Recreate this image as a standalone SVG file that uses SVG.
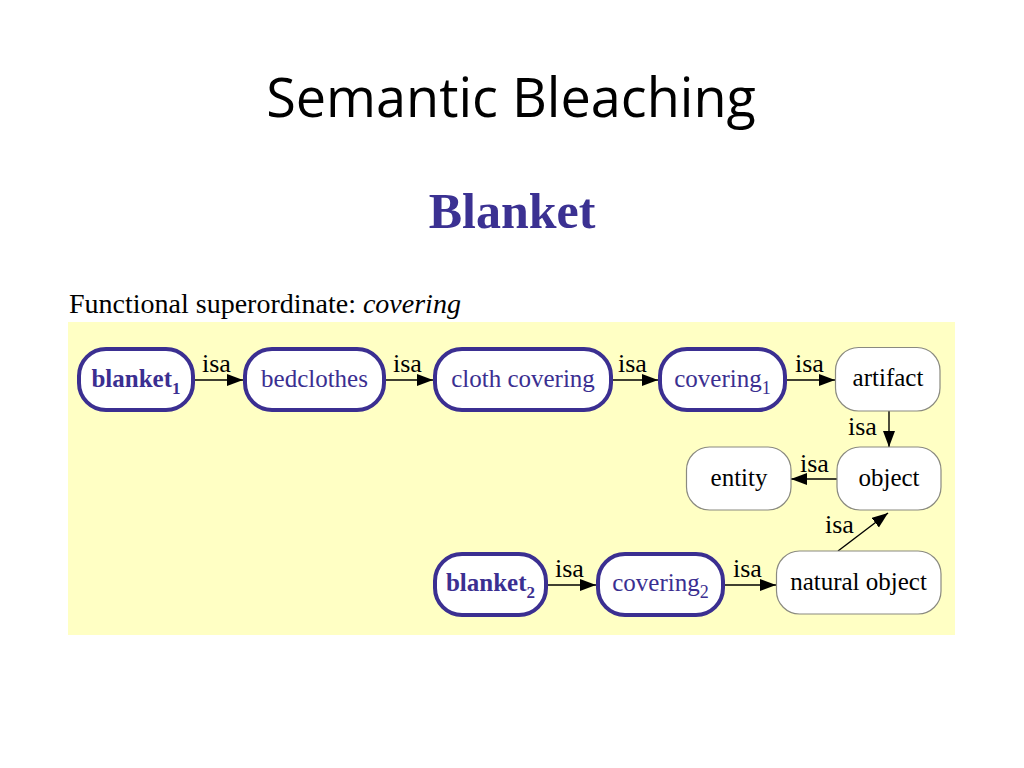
<svg xmlns="http://www.w3.org/2000/svg" width="1024" height="768" viewBox="0 0 1024 768">
<style>
.title{font-family:"Open Sans","Liberation Sans",sans-serif;font-size:54px;fill:#000}
.head{font-family:"Liberation Serif",serif;font-weight:bold;font-size:50px;fill:#3b3192}
.sub{font-family:"Liberation Serif",serif;font-size:28px;fill:#000}
.bn rect{fill:#fff;stroke:#3b2f91;stroke-width:4}
.gn rect{fill:#fff;stroke:#8a8a80;stroke-width:1.2}
.bn text{font-family:"Liberation Serif",serif;font-size:25px;fill:#3b2f91;text-anchor:middle}
.gn text{font-family:"Liberation Serif",serif;font-size:25px;fill:#000;text-anchor:middle}
.bold{font-weight:bold}
.lbl{font-family:"Liberation Serif",serif;font-size:26px;fill:#000}
.edge{stroke:#000;stroke-width:1.4;fill:none;marker-end:url(#ah)}
</style>
<defs>
<marker id="ah" markerUnits="userSpaceOnUse" markerWidth="17" markerHeight="13" refX="16" refY="6" orient="auto">
<path d="M0,0 L16,6 L0,12 z" fill="#000"/>
</marker>
</defs>
<rect width="1024" height="768" fill="#fff"/>
<text class="title" x="511" y="117" text-anchor="middle">Semantic Bleaching</text>
<text class="head" x="512" y="228" text-anchor="middle">Blanket</text>
<text class="sub" x="69" y="313">Functional superordinate: <tspan font-style="italic">covering</tspan></text>
<rect x="68" y="322" width="887" height="313" fill="#ffffc4"/>

<g id="connectors">
<line class="edge" x1="195" y1="380" x2="243" y2="380"/>
<text class="lbl" x="202" y="372">isa</text>
<line class="edge" x1="386" y1="380" x2="433" y2="380"/>
<text class="lbl" x="393" y="372">isa</text>
<line class="edge" x1="613" y1="380" x2="658" y2="380"/>
<text class="lbl" x="618" y="372">isa</text>
<line class="edge" x1="787" y1="380" x2="835" y2="380"/>
<text class="lbl" x="795" y="372">isa</text>
<line class="edge" x1="889" y1="411" x2="889" y2="447"/>
<text class="lbl" x="848" y="435">isa</text>
<line class="edge" x1="837" y1="479" x2="791" y2="479"/>
<text class="lbl" x="800" y="472">isa</text>
<line class="edge" x1="838" y1="551" x2="888" y2="513"/>
<text class="lbl" x="825" y="533">isa</text>
<line class="edge" x1="548" y1="585" x2="596" y2="585"/>
<text class="lbl" x="555" y="577">isa</text>
<line class="edge" x1="725" y1="585" x2="776" y2="585"/>
<text class="lbl" x="733" y="577">isa</text>
</g>

<g id="blanket1" class="bn">
<rect x="79" y="349" width="114" height="61" rx="27"/>
<text class="bold" x="136" y="387" font-size="24">blanket<tspan font-size="17" dy="7">1</tspan></text>
</g>
<g id="bedclothes" class="bn">
<rect x="245" y="349" width="139" height="61" rx="27"/>
<text x="314.5" y="387">bedclothes</text>
</g>
<g id="cloth-covering" class="bn">
<rect x="435" y="349" width="176" height="61" rx="27"/>
<text x="523" y="387">cloth covering</text>
</g>
<g id="covering1" class="bn">
<rect x="660" y="349" width="125" height="61" rx="27"/>
<text x="722.5" y="387">covering<tspan font-size="18" dy="7">1</tspan></text>
</g>
<g id="artifact" class="gn">
<rect x="835.5" y="347.5" width="104.5" height="63.5" rx="23"/>
<text x="888" y="386">artifact</text>
</g>
<g id="entity" class="gn">
<rect x="686.5" y="447" width="104.5" height="63" rx="23"/>
<text x="739" y="486">entity</text>
</g>
<g id="object" class="gn">
<rect x="837" y="447" width="104" height="63" rx="23"/>
<text x="889" y="486">object</text>
</g>
<g id="blanket2" class="bn">
<rect x="435" y="554" width="111" height="61" rx="27"/>
<text class="bold" x="490.5" y="591" font-size="24">blanket<tspan font-size="17" dy="7">2</tspan></text>
</g>
<g id="covering2" class="bn">
<rect x="598" y="554" width="125" height="61" rx="27"/>
<text x="660.5" y="591">covering<tspan font-size="18" dy="7">2</tspan></text>
</g>
<g id="natural-object" class="gn">
<rect x="776.5" y="551" width="164.5" height="63" rx="23"/>
<text x="858.5" y="590">natural object</text>
</g>
</svg>
